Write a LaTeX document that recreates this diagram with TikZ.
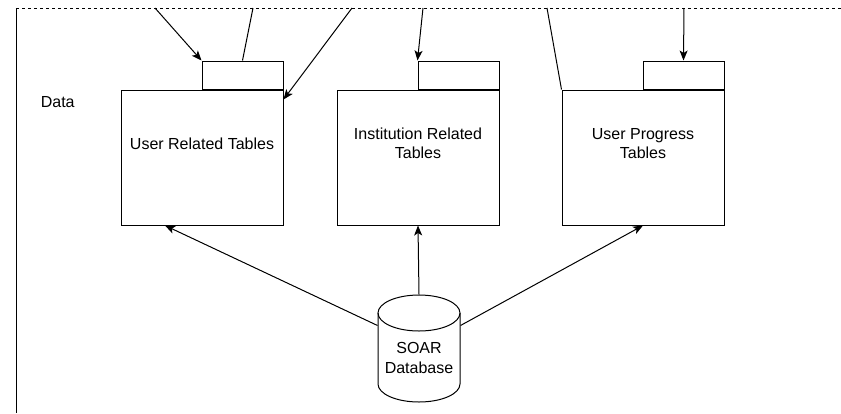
\documentclass[tikz,border=0pt]{standalone}
\usepackage{fontspec}
\setmainfont{Liberation Sans}
\usetikzlibrary{arrows.meta}
\begin{document}
\begin{tikzpicture}[x=1pt,y=-1pt,line width=1pt,
  body/.style={draw,rectangle,minimum width=162pt,minimum height=135pt,inner sep=0pt},
  tab/.style={draw,rectangle,minimum width=81pt,minimum height=28pt,inner sep=0pt,anchor=south east},
  lbl/.style={align=center,font=\fontsize{16}{19.5}\selectfont},
  db/.style={rectangle,minimum width=82pt,minimum height=107pt,inner sep=0pt},
  arr/.style={-{Stealth[length=10pt,width=8pt,inset=2.5pt]}}]
\useasboundingbox (0,0) rectangle (841,413);
%draw frame of the data area
\draw[dash pattern=on 3pt off 3pt] (16,8) -- (841,8);
\draw (16,8) -- (16,413);
\node[lbl,anchor=west] (data) at (37,102) {Data};
%draw table packages
\node[body] (user) at (202,157.5) {};
\node[tab] (usertab) at (user.north east) {};
\node[lbl] (userlbl) at (202,143.5) {User Related Tables};
\node[body] (inst) at (418,157.5) {};
\node[tab] (insttab) at (inst.north east) {};
\node[lbl] (instlbl) at (418,143.5) {Institution Related\\Tables};
\node[body] (prog) at (643,157.5) {};
\node[tab] (progtab) at (prog.north east) {};
\node[lbl] (proglbl) at (643,143.5) {User Progress\\Tables};
%draw database
\node[db] (soar) at (419,348.5) {};
\draw (419,313) ellipse [x radius=41pt,y radius=18pt];
\draw (378,313) -- (378,384) arc [start angle=180,end angle=360,x radius=41pt,y radius=18pt] -- (460,313);
\node[lbl] (soarlbl) at (419,358) {SOAR\\Database};
%incoming lines from above
\coordinate (in1) at (155,8);
\coordinate (in2) at (253,8);
\coordinate (in3) at (352,8);
\coordinate (in4) at (423,8);
\coordinate (in5) at (547,8);
\coordinate (in6) at (684,8);
\draw[arr] (in1) -- (usertab.north west);
\draw (in2) -- (usertab.north);
\draw[arr] (in3) -- ([yshift=-10pt]user.north east);
\draw[arr] (in4) -- (insttab.north west);
\draw (in5) -- (prog.north west);
\draw[arr] (in6) -- (progtab.north);
%database to tables
\draw[arr] ([yshift=23pt]soar.west) -- ([xshift=-37pt]user.south);
\draw[arr] (soar.north) -- (inst.south);
\draw[arr] ([yshift=23pt]soar.east) -- (prog.south);
\end{tikzpicture}
\end{document}
